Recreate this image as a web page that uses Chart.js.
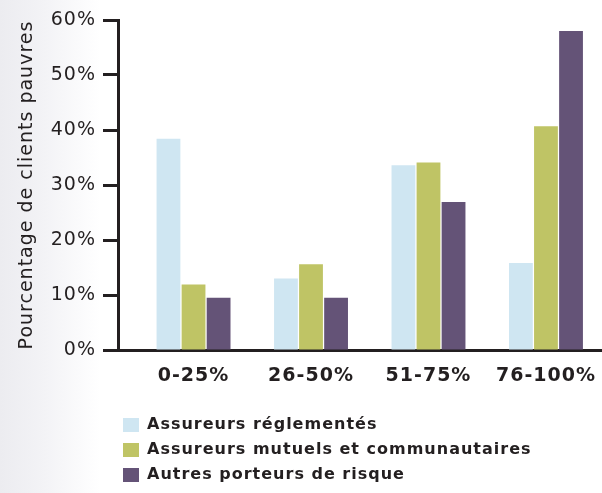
<!DOCTYPE html>
<html lang="fr">
<head>
<meta charset="utf-8">
<title>Pourcentage de clients pauvres</title>
<script src="https://cdn.jsdelivr.net/npm/chart.js@4/dist/chart.umd.min.js"></script>
<style>
    html, body { margin: 0; padding: 0; }
    body {
        width: 602px;
        height: 493px;
        background: linear-gradient(to right, #ececf0 0px, #f3f3f6 45px, #ffffff 100px);
    }
    #wrap { width: 602px; height: 493px; }
</style>
</head>
<body>
<div id="wrap"><canvas id="grafico"></canvas></div>
<script>
// Catégories (part de clients pauvres dans le portefeuille)
const categories = ["0-25%", "26-50%", "51-75%", "76-100%"];

// Séries (% de clients pauvres)
const series = ["Assureurs réglementés", "Assureurs mutuels et communautaires", "Autres porteurs de risque"];
const reglementes = [38.4, 13.0, 33.6, 15.8];
const mutuels = [11.9, 15.6, 34.1, 40.7];
const autres = [9.5, 9.5, 26.9, 58.0];

// Graduations de l'axe Y
const yTicks = [0, 10, 20, 30, 40, 50, 60];

const couleurs = ["#cfe6f2", "#bfc465", "#645377"];
const texte = "#231f20";

function points(valeurs) {
    return valeurs.map((v, i) => ({ x: i, y: v }));
}

// Lettres un peu espacées, comme la police d'origine
const espacement = {
    id: "espacement",
    beforeUpdate(chart) { chart.ctx.letterSpacing = "1px"; },
    beforeDraw(chart) { chart.ctx.letterSpacing = "1px"; }
};

// Décale la légende vers la droite (alignée sous le graphique)
const decalerLegende = {
    id: "decalerLegende",
    afterLayout(chart) {
        chart.legend.left = 114;
    }
};

const ctx = document.getElementById("grafico").getContext("2d");

new Chart(ctx, {
    type: "bar",
    data: {
        datasets: [
            { label: series[0], data: points(reglementes), backgroundColor: couleurs[0] },
            { label: series[1], data: points(mutuels), backgroundColor: couleurs[1] },
            { label: series[2], data: points(autres), backgroundColor: couleurs[2] }
        ]
    },
    options: {
        responsive: true,
        maintainAspectRatio: false,
        animation: false,
        layout: { padding: { top: 20, right: 0, bottom: 0, left: 0 } },
        datasets: {
            bar: { categoryPercentage: 0.64, barPercentage: 0.95, borderWidth: 0 }
        },
        plugins: {
            tooltip: { enabled: false },
            legend: {
                position: "bottom",
                align: "start",
                labels: {
                    boxWidth: 16,
                    boxHeight: 14,
                    padding: 9,
                    color: texte,
                    font: { family: "DejaVu Sans", size: 16, weight: "bold" }
                }
            }
        },
        scales: {
            x: {
                type: "linear",
                offset: false,
                min: -0.643,
                max: 3.477,
                afterFit: (scale) => {
                    scale.height = 58;
                    scale.paddingLeft = 0;
                    scale.paddingRight = 0;
                },
                grid: { display: false, drawTicks: false, offset: false },
                border: { display: true, color: texte, width: 3 },
                ticks: {
                    stepSize: 1,
                    includeBounds: false,
                    autoSkip: false,
                    maxRotation: 0,
                    padding: 15,
                    color: texte,
                    font: { family: "DejaVu Sans", size: 19, weight: "bold" },
                    callback: (v) => Number.isInteger(v) ? categories[v] : ""
                }
            },
            y: {
                min: yTicks[0],
                max: yTicks[yTicks.length - 1],
                afterFit: (scale) => { scale.width = 118; },
                afterBuildTicks: (scale) => { scale.ticks = yTicks.map(v => ({ value: v })); },
                grid: {
                    drawOnChartArea: false,
                    drawTicks: true,
                    tickLength: 15,
                    tickWidth: 3,
                    tickColor: texte
                },
                border: { display: true, color: texte, width: 3 },
                ticks: {
                    padding: 7,
                    color: texte,
                    font: { family: "DejaVu Sans", size: 19 },
                    callback: (v) => v + "%"
                },
                title: {
                    display: true,
                    text: "Pourcentage de clients pauvres",
                    color: texte,
                    padding: { top: 16, bottom: 0 },
                    font: { family: "DejaVu Sans", size: 19 }
                }
            }
        }
    },
    plugins: [espacement, decalerLegende]
});
</script>
</body>
</html>
